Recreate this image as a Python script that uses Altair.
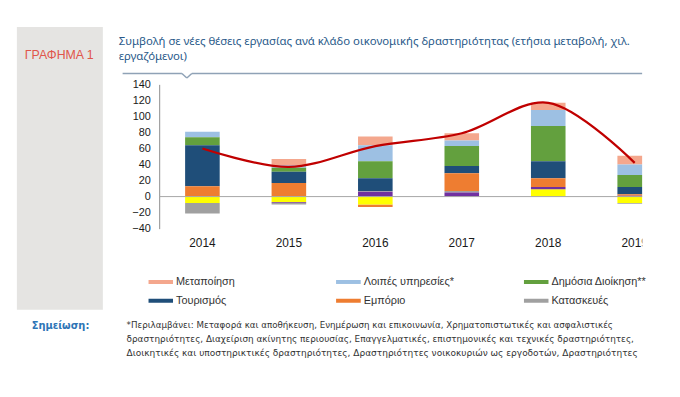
import altair as alt
import pandas as pd

# ---------------- data ----------------
years = ["2014", "2015", "2016", "2017", "2018", "2019"]
y_ticks = [-40, -20, 0, 20, 40, 60, 80, 100, 120, 140]

# legend order
series = ["Μεταποίηση", "Λοιπές υπηρεσίες*", "Δημόσια Διοίκηση**",
          "Τουρισμός", "Εμπόριο", "Κατασκευές", "Γεωργία", "Ενέργεια"]
colors = ["#F4A78D", "#9DC0E3", "#63A03E", "#1F4E79",
          "#EE7D31", "#A0A0A0", "#FFFF00", "#7030A0"]
# stacking order, bottom to top
stack_order = ["Γεωργία", "Ενέργεια", "Κατασκευές", "Εμπόριο", "Τουρισμός",
               "Δημόσια Διοίκηση**", "Λοιπές υπηρεσίες*", "Μεταποίηση"]

manufacturing = [0, 8, 11, 9, 9, 11]
other_services = [7, 3, 20, 7, 20, 13]
public_admin = [10, 5, 21, 25, 44, 15]
tourism = [51, 14, 16, 9, 21, 9]
trade = [13, 17, -3, 22, 11, 2]
construction = [-13, -2, 1, 2, 0, -1]
agriculture = [-8, -7, -10, 0, 9, -8]
energy = [0, -1, 6, 5, 3, 1]
total = [60, 37, 63, 79, 117, 42]

header_text = "ΓΡΑΦΗΜΑ 1"
title_lines = ["Συμβολή σε νέες θέσεις εργασίας ανά κλάδο οικονομικής δραστηριότητας (ετήσια μεταβολή, χιλ.",
               "εργαζόμενοι)"]
note_label = "Σημείωση:"
note_lines = [
    "*Περιλαμβάνει: Μεταφορά και αποθήκευση, Ενημέρωση και επικοινωνία, Χρηματοπιστωτικές και ασφαλιστικές",
    "δραστηριότητες, Διαχείριση ακίνητης περιουσίας, Επαγγελματικές, επιστημονικές και τεχνικές δραστηριότητες,",
    "Διοικητικές και υποστηρικτικές δραστηριότητες, Δραστηριότητες νοικοκυριών ως εργοδοτών, Δραστηριότητες",
]

# ---------------- tables ----------------
values_by_series = [manufacturing, other_services, public_admin, tourism,
                    trade, construction, agriculture, energy]
rows = []
for name, vals in zip(series, values_by_series):
    for yr, v in zip(years, vals):
        rows.append({"year": yr, "series": name, "value": v,
                     "rank": stack_order.index(name)})
df = pd.DataFrame(rows)
df_total = pd.DataFrame({"year": years, "total": total})
dummy = pd.DataFrame({"k": [0]})

# ---------------- layout helpers ----------------
OX, OY = 161, 83          # page position of plot origin
W, H = 489, 146


def px(x):
    return x - OX


def py(y):
    return y - OY


x_scale = alt.Scale(domain=years, range=[0, 525], paddingInner=0.6, paddingOuter=0.3)
x_axis = alt.Axis(title=None, domain=False, ticks=False, tickSize=0, labelAngle=0,
                  labelPadding=9, labelFontSize=12, labelFont="Liberation Sans",
                  labelColor="#1a1a1a", zindex=0, grid=False)
y_scale = alt.Scale(domain=[-40, 140], nice=False, zero=False)
y_axis = alt.Axis(title=None, values=y_ticks, grid=False, ticks=False, tickSize=0,
                  domainColor="#8c8c8c", domainWidth=1, labelPadding=9,
                  labelFontSize=11, labelFont="Liberation Sans", labelColor="#1a1a1a",
                  zindex=0)

legend = alt.Legend(title=None, orient="none", legendX=-11, legendY=192, columns=3,
                    direction="horizontal",
                    values=series[:6], symbolType="M-1,-0.16H1V0.16H-1Z",
                    symbolSize=625, symbolStrokeWidth=0, clipHeight=16, rowPadding=3,
                    columnPadding=65, gridAlign="all", labelFont="Liberation Sans",
                    labelFontSize=11, labelColor="#333333", labelOffset=3, padding=0)


def text_layer(txt, x, y, size, color, font, weight="normal", align="left"):
    return alt.Chart(dummy).mark_text(
        text=txt, align=align, baseline="alphabetic", fontSize=size, font=font,
        color=color, fontWeight=weight).encode(x=alt.value(x), y=alt.value(y))


def rule_layer(x1, y1, x2, y2, color, width):
    return alt.Chart(dummy).mark_rule(color=color, strokeWidth=width).encode(
        x=alt.value(x1), y=alt.value(y1), x2=alt.value(x2), y2=alt.value(y2))


def rect_layer(x1, y1, x2, y2, color):
    return alt.Chart(dummy).mark_rect(color=color).encode(
        x=alt.value(x1), y=alt.value(y1), x2=alt.value(x2), y2=alt.value(y2))


# ---------------- layers ----------------
panel = rect_layer(px(17), py(25), px(104), py(311), "#E5E4E2")
panel_text = text_layer(header_text, px(25), py(57.5), 12.5, "#E0554A", "Liberation Sans")
title1 = text_layer(title_lines[0], px(120), py(43.5), 11.5, "#2A5A8A", "Noto Sans")
title2 = text_layer(title_lines[1], px(120), py(58.5), 11.5, "#2A5A8A", "Noto Sans")
hr_color = "#8FA2B6"
hr1 = rule_layer(px(124), py(72), px(184), py(72), hr_color, 1.5)
hr2 = rule_layer(px(184), py(72), px(189), py(76.5), hr_color, 1.5)
hr3 = rule_layer(px(189), py(76.5), px(194), py(72), hr_color, 1.5)
hr4 = rule_layer(px(194), py(72), px(650), py(72), hr_color, 1.5)

bars = alt.Chart(df).mark_bar(clip=True).encode(
    x=alt.X("year:N", sort=years, scale=x_scale, axis=x_axis),
    y=alt.Y("value:Q", stack="zero", scale=y_scale, axis=y_axis),
    color=alt.Color("series:N", scale=alt.Scale(domain=series, range=colors), legend=legend),
    order=alt.Order("rank:Q", sort="ascending"),
)

zero = alt.Chart(dummy).mark_rule(color="#A6A6A6", strokeWidth=1).encode(
    y=alt.Y(datum=0, type="quantitative", scale=y_scale, axis=y_axis))

line = alt.Chart(df_total).mark_line(interpolate="catmull-rom", color="#C00000",
                                      strokeWidth=2.3, clip=True).encode(
    x=alt.X("year:N", sort=years, scale=x_scale, axis=x_axis),
    y=alt.Y("total:Q", scale=y_scale, axis=y_axis),
)

mask = rect_layer(W, -80, 525, 310, "#FFFFFF")

note_head = text_layer(note_label, px(32), py(330.5), 10, "#2E75B6", "DejaVu Sans", weight="bold")
note_sizes = [8.8, 8.98, 9.1]
note_layers = [text_layer(t, px(128), py(330 + 14 * i), s, "#333333", "DejaVu Sans")
               for i, (t, s) in enumerate(zip(note_lines, note_sizes))]

chart = alt.layer(
    panel, panel_text, title1, title2, hr1, hr2, hr3, hr4,
    bars, zero, line, mask, note_head, *note_layers
).properties(
    width=W, height=H,
    padding={"left": 153, "top": 75, "right": 30, "bottom": 160},
    autosize=alt.AutoSizeParams(type="none"),
    background="white",
).configure_view(stroke=None)

chart.save("out.html", embed_options={"renderer": "svg", "actions": False})
